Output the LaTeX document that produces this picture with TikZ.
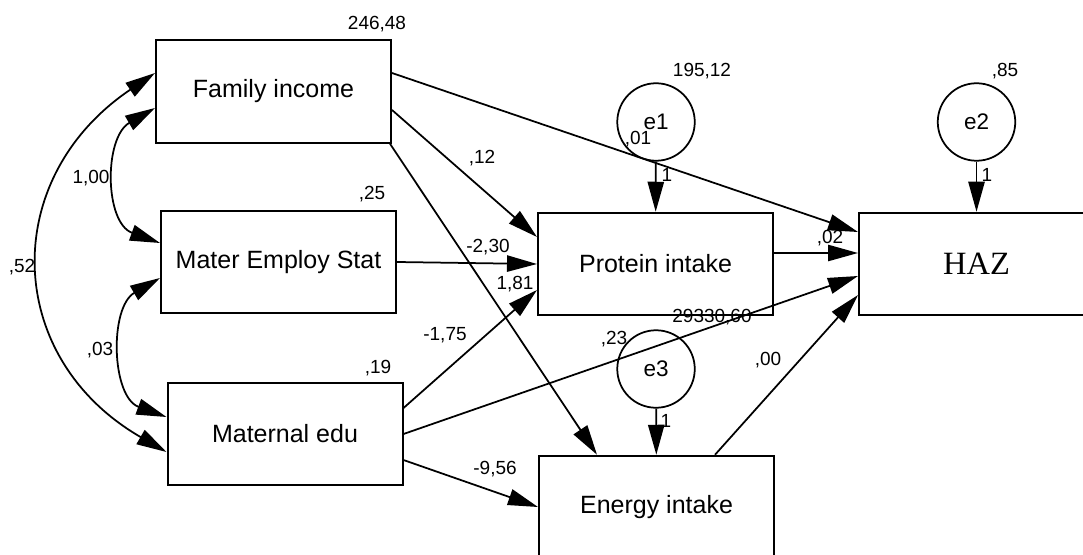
\documentclass[tikz,border=0pt]{standalone}
\usepackage{fontspec}
\setmainfont{Liberation Sans}
\newfontfamily\hazfont{Liberation Serif}
\usetikzlibrary{arrows.meta}
\usetikzlibrary{calc}

\begin{document}
\begin{tikzpicture}[x=0.4pt, y=0.4pt,
    var/.style={draw, line width=0.8pt, minimum width=94pt, minimum height=41pt, font=\fontsize{10}{12}\selectfont},
    err/.style={draw, circle, line width=0.7pt, minimum size=31pt, inner sep=0pt, font=\fontsize{9}{11}\selectfont},
    est/.style={inner sep=0pt, font=\fontsize{7.6}{9}\selectfont},
    regr/.style={line width=0.7pt, -{Triangle[length=12pt, width=6.5pt]}},
    cov/.style={line width=0.7pt, {Triangle[length=12pt, width=6.5pt]}-{Triangle[length=12pt, width=6.5pt]}}]
  \useasboundingbox (0,0) rectangle (1083,554);
  \clip (0,0) rectangle (1083,554);

  % observed variables
  \node[var] (fam) at (273.5,462.5) {Family income};
  \node[var] (mes) at (278.5,292) {Mater Employ Stat};
  \node[var] (med) at (285,120) {Maternal edu};
  \node[var] (pro) at (655.5,290) {Protein intake};
  \node[var] (ene) at (656.5,47) {Energy intake};
  \node[var, font=\hazfont\fontsize{13}{15}\selectfont] (haz) at (976.5,290) {HAZ};

  % error terms
  \node[err] (e1) at (656,432) {e1};
  \node[err] (e2) at (976.5,432) {e2};
  \node[err] (e3) at (656,185) {e3};

  \draw[regr] (e1) -- (pro);
  \draw[regr] (e2) -- (haz);
  \draw[regr] (e3) -- (ene);

  % paths
  \draw[regr] ($(fam.east)+(0,18.5)$) -- ($(haz.west)+(0,32)$);
  \draw[regr] ($(fam.east)+(0,-18.5)$) -- ($(pro.west)+(0,27)$);
  \draw[regr] ($(fam.south east)+(-2,0)$) -- ($(ene.north)+(-59.5,0)$);
  \draw[regr] (mes.east) -- (pro.west);
  \draw[regr] ($(med.east)+(0,26)$) -- ($(pro.west)+(0,-26)$);
  \draw[regr] (med.east) -- ($(haz.west)+(0,-12)$);
  \draw[regr] ($(med.east)+(0,-26)$) -- (ene.west);
  \draw[regr] ($(pro.east)+(0,11)$) -- ($(haz.west)+(0,11)$);
  \draw[regr] ($(ene.north)+(58.5,0)$) -- ($(haz.west)+(0,-31)$);

  % covariances
  \draw[cov] ($(fam.west)+(0,-16.5)$) to[out=210, in=160, looseness=1.12] ($(mes.west)+(0,19)$);
  \draw[cov] ($(mes.west)+(0,-16)$) to[out=210, in=160, looseness=1.08] ($(med.west)+(0,17)$);
  \draw[cov] ($(fam.west)+(0,18.5)$) to[out=214, in=150, looseness=1.27] ($(med.west)+(0,-18)$);

  % estimates
  \node[est] (vfam) at (377,530) {246,48};
  \node[est] (vmes) at (372,360) {,25};
  \node[est] (vmed) at (378,186) {,19};
  \node[est] (cfm) at (91,376) {1,00};
  \node[est] (cfd) at (22,287) {,52};
  \node[est] (cmd) at (100,204) {,03};
  \node[est] (ve1) at (702,483) {195,12};
  \node[est] (rpro) at (638,415) {,01};
  \node[est] (w1) at (667,379) {1};
  \node[est] (bfp) at (482,396) {,12};
  \node[est] (bmp) at (488,307) {-2,30};
  \node[est] (bdp) at (515,270) {1,81};
  \node[est] (bde) at (445,219) {-1,75};
  \node[est] (ve3) at (712,237) {29330,60};
  \node[est] (rene) at (614,215) {,23};
  \node[est] (w3) at (666,133) {1};
  \node[est] (beh) at (768,194) {,00};
  \node[est] (bdn) at (495,85) {-9,56};
  \node[est] (ve2) at (1005,483) {,85};
  \node[est] (w2) at (987,379) {1};
  \node[est] (bph) at (830,316) {,02};
\end{tikzpicture}
\end{document}
